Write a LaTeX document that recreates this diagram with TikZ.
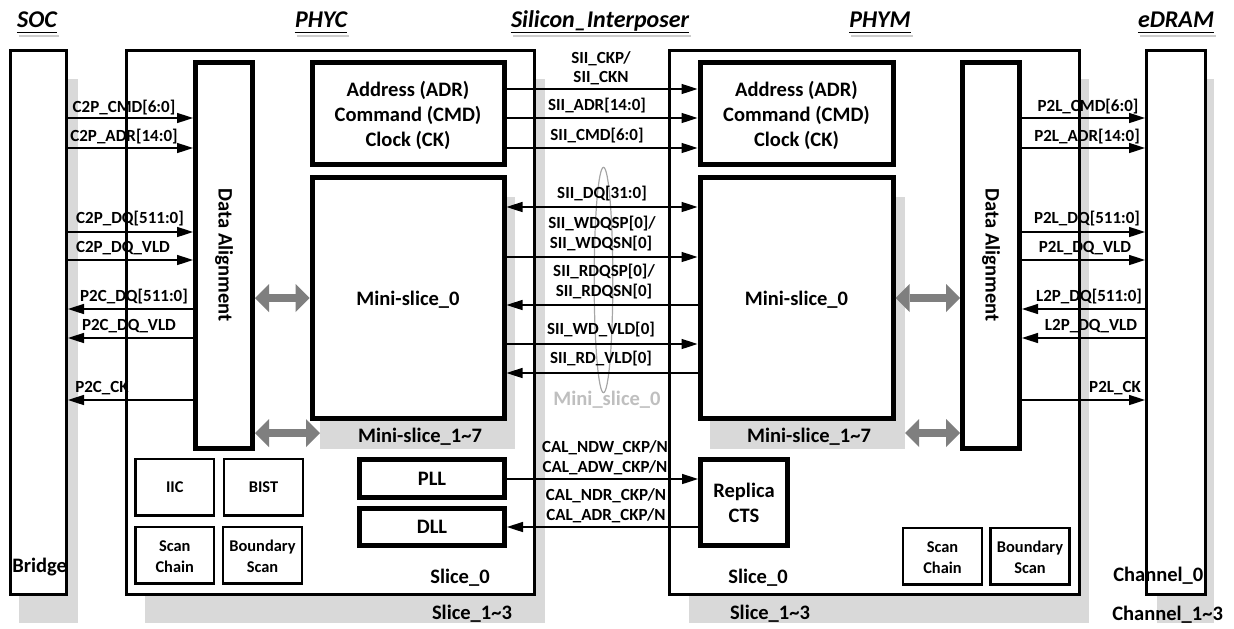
\documentclass[tikz,border=0pt]{standalone}
\usepackage{fontspec}
\setmainfont{Carlito}
\usetikzlibrary{arrows.meta,fit,shapes.geometric}
\definecolor{shd}{HTML}{D9D9D9}
\definecolor{garr}{HTML}{7F7F7F}
\definecolor{ellc}{HTML}{A6A6A6}
\definecolor{mslab}{HTML}{BFBFBF}
\newcommand\MainF{\fontsize{15.4pt}{18.75pt}\selectfont\bfseries}
\newcommand\SigF{\fontsize{12.75pt}{15.75pt}\selectfont\bfseries}
\newcommand\SmallF{\fontsize{12.3pt}{15.75pt}\selectfont\bfseries}
\newcommand\HdrF{\fontsize{18pt}{21pt}\selectfont\bfseries\itshape}
\begin{document}
\begin{tikzpicture}[x=0.75pt,y=-0.75pt,
  shadowbox/.style={fill=shd, inner sep=0pt, outer sep=0pt},
  outerbox/.style={draw, line width=2.25pt, fill=white, inner sep=0pt},
  thickbox/.style={draw, line width=3.75pt, fill=white, inner sep=0pt},
  smallbox/.style={draw, line width=1.9pt, fill=white, inner sep=0pt},
  sigr/.style={line width=1.2pt,-{Triangle[length=12pt,width=7.5pt]}},
  sigl/.style={line width=1.2pt,{Triangle[length=12pt,width=7.5pt]}-},
  sigb/.style={line width=1.2pt,{Triangle[length=12pt,width=7.5pt]}-{Triangle[length=12pt,width=7.5pt]}},
  garrow/.style={draw=garr, line width=6.5pt, {Triangle[length=10.5pt,width=21pt,line width=0pt]}-{Triangle[length=10.5pt,width=21pt,line width=0pt]}},
  lab/.style={font=\SigF, inner sep=0pt, anchor=center},
  txt/.style={font=\MainF, inner sep=0pt, align=center},
  stxt/.style={font=\SmallF, inner sep=0pt, align=center},
  hdr/.style={font=\HdrF, inner sep=0pt, anchor=base},
  uline/.style={line width=1.2pt},
  ulinesh/.style={line width=1.5pt, draw=black!20}
]
\useasboundingbox (0,0) rectangle (1234,628);

% headers
\node[hdr] (hsoc) at (37,27) {SOC};
\node[hdr] (hphyc) at (321,27) {PHYC};
\node[hdr] (hsi) at (600,27) {Silicon\_Interposer};
\node[hdr] (hphym) at (880,27) {PHYM};
\node[hdr] (hed) at (1176,27) {eDRAM};
\draw[ulinesh] ([xshift=1.5pt]hsoc.west |- 0,35.5) -- ([xshift=1.5pt]hsoc.east |- 0,35.5);
\draw[ulinesh] ([xshift=1.5pt]hphyc.west |- 0,35.5) -- ([xshift=1.5pt]hphyc.east |- 0,35.5);
\draw[ulinesh] ([xshift=1.5pt]hsi.west |- 0,35.5) -- ([xshift=1.5pt]hsi.east |- 0,35.5);
\draw[ulinesh] ([xshift=1.5pt]hphym.west |- 0,35.5) -- ([xshift=1.5pt]hphym.east |- 0,35.5);
\draw[ulinesh] ([xshift=1.5pt]hed.west |- 0,35.5) -- ([xshift=1.5pt]hed.east |- 0,35.5);
\draw[uline] (hsoc.west |- 0,32.5) -- (hsoc.east |- 0,32.5);
\draw[uline] (hphyc.west |- 0,32.5) -- (hphyc.east |- 0,32.5);
\draw[uline] (hsi.west |- 0,32.5) -- (hsi.east |- 0,32.5);
\draw[uline] (hphym.west |- 0,32.5) -- (hphym.east |- 0,32.5);
\draw[uline] (hed.west |- 0,32.5) -- (hed.east |- 0,32.5);

% outer shadows
\node[shadowbox, fit={(19,79) (78,623)}] (socsh) {};
\node[shadowbox, fit={(145,79) (545,623)}] (phycsh) {};
\node[shadowbox, fit={(689,79) (1089,623)}] (phymsh) {};
\node[shadowbox, fit={(1157,79) (1214,623)}] (edramsh) {};
% outer boxes
\node[outerbox, fit={(10,50.5) (66.5,594.5)}] (soc) {};
\node[outerbox, fit={(126.5,50.5) (534.5,594.5)}] (phyc) {};
\node[outerbox, fit={(669.5,50.5) (1079.5,594.5)}] (phym) {};
\node[outerbox, fit={(1146.5,50.5) (1205.5,594.5)}] (edram) {};
% mini-slice shadows
\node[shadowbox, fit={(320,197) (515,449)}] (msLsh) {};
\node[shadowbox, fit={(710,197) (905,449)}] (msRsh) {};
% thick boxes
\node[thickbox, fit={(195.5,62) (252.5,448)}] (daL) {};
\node[thickbox, fit={(962.5,62) (1019.5,448)}] (daR) {};
\node[thickbox, fit={(312,62) (504,164)}] (adrL) {};
\node[thickbox, fit={(700,62) (893,164)}] (adrR) {};
\node[thickbox, fit={(312,177.5) (504,418.5)}] (msL) {};
\node[thickbox, fit={(700,177.5) (893,418.5)}] (msR) {};
\node[thickbox, fit={(359.5,459.5) (504.5,497.5)}] (pll) {};
\node[thickbox, fit={(359.5,508.5) (504.5,545.5)}] (dll) {};
\node[thickbox, fit={(700.5,459.5) (787.5,545.5)}] (rep) {};
% small boxes
\node[smallbox, fit={(135.5,459) (214,515.5)}] (iic) {};
\node[smallbox, fit={(224,459) (303,515.5)}] (bist) {};
\node[smallbox, fit={(135.5,527) (214,583.5)}] (scanL) {};
\node[smallbox, fit={(223,527) (302,583.5)}] (bscanL) {};
\node[smallbox, fit={(903,528) (982,584.5)}] (scanR) {};
\node[smallbox, fit={(990.5,528) (1069.5,584.5)}] (bscanR) {};

% box texts
\node[txt, rotate=-90] (daLt) at (daL.center) {Data Alignment};
\node[txt, rotate=-90] (daRt) at (daR.center) {Data Alignment};
\node[txt] (adrLt) at ([yshift=-2pt]adrL.center) {Address (ADR)\\Command (CMD)\\Clock (CK)};
\node[txt] (adrRt) at ([yshift=-2pt]adrR.center) {Address (ADR)\\Command (CMD)\\Clock (CK)};
\node[txt] (msLt) at ([yshift=-1pt]msL.center) {Mini-slice\_0};
\node[txt] (msRt) at ([yshift=-1pt]msR.center) {Mini-slice\_0};
\node[txt] (pllt) at (pll.center) {PLL};
\node[txt] (dllt) at (dll.center) {DLL};
\node[txt] (rept) at (rep.center) {Replica\\CTS};
\node[stxt] (iict) at (iic.center) {IIC};
\node[stxt] (bistt) at (bist.center) {BIST};
\node[stxt] (scanLt) at ([yshift=-1pt]scanL.center) {Scan\\Chain};
\node[stxt] (bscanLt) at ([yshift=-1pt]bscanL.center) {Boundary\\Scan};
\node[stxt] (scanRt) at ([yshift=-1pt]scanR.center) {Scan\\Chain};
\node[stxt] (bscanRt) at ([yshift=-1pt]bscanR.center) {Boundary\\Scan};

% plain labels
\node[txt] (mslabL) at (420,436.5) {Mini-slice\_1\textasciitilde{}7};
\node[txt] (mslabR) at (809,436.5) {Mini-slice\_1\textasciitilde{}7};
\node[txt] (slL) at (460,578) {Slice\_0};
\node[txt] (slR) at (758,578) {Slice\_0};
\node[txt] (sl13L) at (472,614) {Slice\_1\textasciitilde{}3};
\node[txt] (sl13R) at (770,614) {Slice\_1\textasciitilde{}3};
\node[txt, anchor=west] (bridge) at (12,567) {Bridge};
\node[txt, anchor=west] (ch0) at (1113,575.5) {Channel\_0};
\node[txt, anchor=west] (ch13) at (1112,615) {Channel\_1\textasciitilde{}3};

% ellipse
\node[ellipse, draw=ellc, line width=0.9pt, minimum width=14pt, minimum height=169pt, inner sep=0pt] (ell) at (603.5,280) {};
\node[txt, text=mslab] (ellt) at (607,400) {Mini\_slice\_0};

% gray double arrows
\draw[garrow] (daL.east |- 0,298) -- (msL.west |- 0,298);
\draw[garrow] (daL.east |- 0,433) -- (msLsh.west |- 0,433);
\draw[garrow] (msR.east |- 0,298) -- (daR.west |- 0,298);
\draw[garrow] (msRsh.east |- 0,433) -- (daR.west |- 0,433);

% left signals
\draw[sigr] (soc.east |- 0,118) -- (daL.west |- 0,118);
\draw[sigr] (soc.east |- 0,148) -- (daL.west |- 0,148);
\draw[sigr] (soc.east |- 0,232) -- (daL.west |- 0,232);
\draw[sigr] (soc.east |- 0,260) -- (daL.west |- 0,260);
\draw[sigl] (soc.east |- 0,309) -- (daL.west |- 0,309);
\draw[sigl] (soc.east |- 0,338) -- (daL.west |- 0,338);
\draw[sigl] (soc.east |- 0,400) -- (daL.west |- 0,400);
\node[lab] (lc1) at (124,107.5) {C2P\_CMD[6:0]};
\node[lab] (lc2) at (124,137) {C2P\_ADR[14:0]};
\node[lab] (lc3) at (130,219) {C2P\_DQ[511:0]};
\node[lab] (lc4) at (123,248) {C2P\_DQ\_VLD};
\node[lab] (lc5) at (134,296.5) {P2C\_DQ[511:0]};
\node[lab] (lc6) at (129,326) {P2C\_DQ\_VLD};
\node[lab] (lc7) at (102,388.5) {P2C\_CK};

% right signals
\draw[sigr] (daR.east |- 0,118) -- (edram.west |- 0,118);
\draw[sigr] (daR.east |- 0,148) -- (edram.west |- 0,148);
\draw[sigr] (daR.east |- 0,232) -- (edram.west |- 0,232);
\draw[sigr] (daR.east |- 0,260) -- (edram.west |- 0,260);
\draw[sigl] (daR.east |- 0,309) -- (edram.west |- 0,309);
\draw[sigl] (daR.east |- 0,338) -- (edram.west |- 0,338);
\draw[sigr] (daR.east |- 0,400) -- (edram.west |- 0,400);
\node[lab] (lr1) at (1088,106.5) {P2L\_CMD[6:0]};
\node[lab] (lr2) at (1087,136.5) {P2L\_ADR[14:0]};
\node[lab] (lr3) at (1087,219) {P2L\_DQ[511:0]};
\node[lab] (lr4) at (1085,248) {P2L\_DQ\_VLD};
\node[lab] (lr5) at (1089,296.5) {L2P\_DQ[511:0]};
\node[lab] (lr6) at (1091,326) {L2P\_DQ\_VLD};
\node[lab] (lr7) at (1115,388.5) {P2L\_CK};

% middle signals
\draw[sigr] (adrL.east |- 0,89) -- (adrR.west |- 0,89);
\draw[sigr] (adrL.east |- 0,118) -- (adrR.west |- 0,118);
\draw[sigr] (adrL.east |- 0,148) -- (adrR.west |- 0,148);
\draw[sigb] (msL.east |- 0,207) -- (msR.west |- 0,207);
\draw[sigr] (msL.east |- 0,257) -- (msR.west |- 0,257);
\draw[sigl] (msL.east |- 0,305) -- (msR.west |- 0,305);
\draw[sigr] (msL.east |- 0,344) -- (msR.west |- 0,344);
\draw[sigl] (msL.east |- 0,373) -- (msR.west |- 0,373);
\draw[sigr] (pll.east |- 0,479) -- (rep.west |- 0,479);
\draw[sigl] (dll.east |- 0,527) -- (rep.west |- 0,527);
\node[lab] (lm1a) at (601,59) {SII\_CKP/};
\node[lab] (lm1b) at (601,78) {SII\_CKN};
\node[lab] (lm2) at (597,106) {SII\_ADR[14:0]};
\node[lab] (lm3) at (597,135.5) {SII\_CMD[6:0]};
\node[lab] (lm4) at (602,194) {SII\_DQ[31:0]};
\node[lab] (lm5a) at (602,223.5) {SII\_WDQSP[0]/};
\node[lab] (lm5b) at (601,243.5) {SII\_WDQSN[0]};
\node[lab] (lm6a) at (604,271.5) {SII\_RDQSP[0]/};
\node[lab] (lm6b) at (604,291.5) {SII\_RDQSN[0]};
\node[lab] (lm7) at (601,330) {SII\_WD\_VLD[0]};
\node[lab] (lm8) at (601,359) {SII\_RD\_VLD[0]};
\node[lab] (lk1) at (605,447.5) {CAL\_NDW\_CKP/N};
\node[lab] (lk2) at (605,468) {CAL\_ADW\_CKP/N};
\node[lab] (lk3) at (606,496) {CAL\_NDR\_CKP/N};
\node[lab] (lk4) at (606,516) {CAL\_ADR\_CKP/N};
\end{tikzpicture}
\end{document}
